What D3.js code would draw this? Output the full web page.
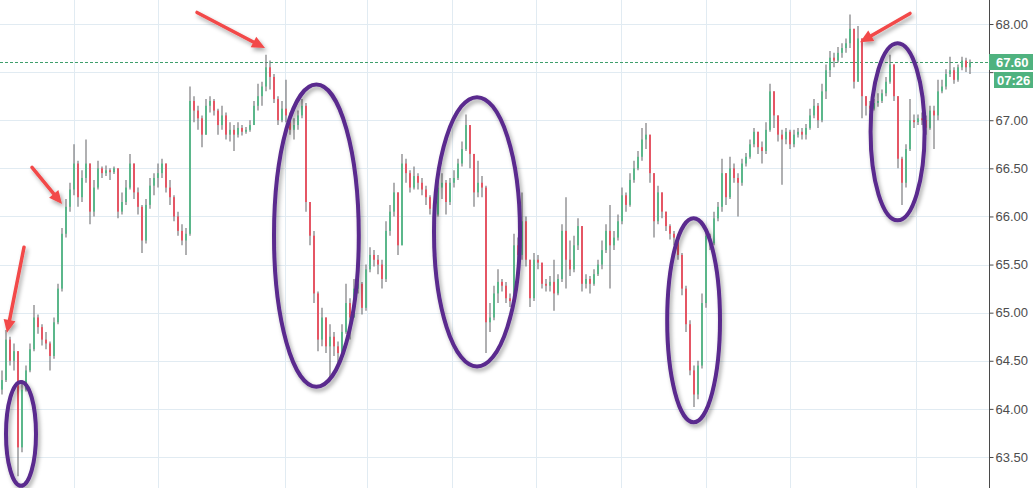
<!DOCTYPE html>
<html>
<head>
<meta charset="utf-8">
<script src="https://cdn.jsdelivr.net/npm/d3@7"></script>
<style>
  body { margin: 0; background: #fff; }
  svg { display: block; }
</style>
</head>
<body>
<div id="chart"></div>
<script>
(function () {
    'use strict';

    // candle closes, highs, lows (opens are the previous close)
    var firstOpen = 64.20;
    var closes = [
        64.30,64.72,64.50,64.60,63.60,64.20,64.40,64.62,64.95,64.85,
        64.72,64.68,64.55,64.90,65.25,65.82,66.10,66.28,66.55,66.20,
        66.40,66.55,66.05,66.30,66.50,66.45,66.48,66.46,66.50,66.05,
        66.15,66.30,66.55,66.25,66.10,65.75,66.12,66.32,66.40,66.45,
        66.55,66.30,66.20,66.00,65.85,65.75,65.82,67.20,67.10,67.02,
        66.85,67.15,67.20,67.10,66.95,67.05,66.85,66.90,66.85,66.92,
        66.88,66.90,66.95,67.15,67.25,67.35,67.55,67.45,67.22,67.00,
        67.12,67.05,66.90,66.95,67.05,67.15,66.15,65.80,65.20,64.72,
        64.95,64.65,64.75,64.65,64.58,64.80,65.10,64.95,65.25,65.30,
        65.05,65.45,65.60,65.55,65.50,65.35,65.85,66.05,66.25,65.70,
        66.55,66.45,66.30,66.42,66.35,66.28,66.20,66.08,66.02,66.30,
        66.35,66.15,66.35,66.40,66.55,66.70,66.95,66.65,66.25,66.35,
        66.30,64.90,64.95,65.20,65.32,65.28,65.15,65.12,65.70,65.60,
        65.95,65.55,65.15,65.55,65.52,65.30,65.28,65.32,65.20,65.35,
        65.85,65.55,65.45,65.70,65.90,65.30,65.35,65.30,65.40,65.50,
        65.65,65.85,65.70,65.78,65.95,66.22,66.12,66.38,66.50,66.62,
        66.80,66.85,66.45,65.95,66.25,66.05,65.90,65.82,65.78,65.60,
        65.25,64.88,64.40,64.15,64.45,65.10,65.80,65.72,65.98,66.10,
        66.45,66.20,66.50,66.40,66.35,66.55,66.62,66.75,66.88,66.72,
        66.68,66.90,67.30,67.05,66.85,66.80,66.88,66.75,66.85,66.88,
        66.85,66.92,67.05,67.15,67.00,67.30,67.52,67.65,67.62,67.70,
        67.75,67.80,67.95,67.40,67.85,67.25,67.15,67.12,67.18,67.20,
        67.28,67.40,67.58,67.25,66.60,66.35,66.70,67.00,66.98,67.02,
        67.00,66.92,67.10,67.05,67.30,67.35,67.48,67.52,67.42,67.55,
        67.62,67.55,67.60
    ];
    var highs = [
        64.40,64.82,64.75,64.68,64.55,64.30,64.45,64.68,65.08,64.98,
        64.88,64.80,64.70,64.95,65.30,65.88,66.18,66.35,66.75,66.58,
        66.48,66.80,66.55,66.38,66.58,66.52,66.53,66.50,66.52,66.50,
        66.25,66.38,66.65,66.52,66.30,66.12,66.18,66.40,66.45,66.55,
        66.60,66.55,66.38,66.22,66.05,65.92,65.88,67.35,67.25,67.15,
        67.05,67.22,67.25,67.22,67.12,67.15,67.08,66.98,66.95,66.98,
        66.95,66.93,67.00,67.20,67.38,67.40,67.68,67.62,67.48,67.25,
        67.20,67.42,67.08,67.02,67.10,67.22,67.18,66.15,65.85,65.22,
        65.05,64.95,64.88,64.80,64.70,64.88,65.30,65.15,65.35,65.45,
        65.32,65.50,65.68,65.65,65.60,65.55,65.95,66.12,66.35,66.22,
        66.65,66.60,66.48,66.52,66.45,66.40,66.32,66.22,66.12,66.40,
        66.45,66.38,66.40,66.48,66.60,66.78,67.06,66.95,66.65,66.58,
        66.42,66.32,65.10,65.28,65.45,65.35,65.32,65.20,65.82,65.78,
        66.25,66.00,65.55,65.62,65.60,65.52,65.35,65.38,65.55,65.40,
        65.92,66.20,65.75,65.80,65.98,65.88,65.40,65.38,65.45,65.55,
        65.75,65.92,66.12,65.85,66.02,66.30,66.25,66.45,66.58,66.68,
        66.92,66.97,66.82,66.45,66.32,66.25,66.05,65.92,65.85,65.80,
        65.62,65.28,64.92,64.45,64.50,65.20,65.88,65.82,66.05,66.15,
        66.60,66.45,66.62,66.55,66.45,66.60,66.66,66.80,66.92,66.88,
        66.78,66.98,67.38,67.28,67.05,66.90,66.92,66.90,66.90,66.92,
        66.92,66.96,67.12,67.22,67.18,67.38,67.58,67.72,67.70,67.76,
        67.80,67.85,68.10,67.95,67.98,67.85,67.25,67.20,67.22,67.28,
        67.32,67.45,67.68,67.55,67.25,66.62,66.75,67.22,67.06,67.06,
        67.08,67.05,67.15,67.15,67.42,67.42,67.53,67.66,67.55,67.58,
        67.66,67.65,67.63
    ];
    var lows = [
        64.15,64.28,64.45,64.40,63.30,63.55,64.18,64.38,64.60,64.78,
        64.66,64.62,64.40,64.52,64.88,65.22,65.78,66.05,66.22,66.10,
        66.15,66.35,65.92,66.00,66.28,66.40,66.42,66.38,66.44,65.98,
        66.02,66.12,66.28,66.18,66.02,65.62,65.72,66.08,66.22,66.30,
        66.40,66.25,66.12,65.95,65.80,65.70,65.60,65.80,66.98,66.90,
        66.72,66.85,67.08,67.05,66.85,66.90,66.80,66.78,66.68,66.82,
        66.84,66.86,66.88,66.95,67.10,67.15,67.30,67.32,67.18,66.95,
        66.98,66.98,66.85,66.80,66.90,67.02,66.05,65.70,65.10,64.60,
        64.65,64.58,64.30,64.55,64.48,64.55,64.78,64.72,64.95,65.20,
        64.98,65.02,65.42,65.48,65.40,65.25,65.32,65.80,66.00,65.60,
        65.70,66.35,66.25,66.28,66.28,66.22,66.12,66.02,65.88,66.00,
        66.18,66.02,66.12,66.30,66.38,66.52,66.68,66.50,66.10,66.20,
        66.20,64.58,64.80,64.92,65.10,65.22,65.10,65.06,65.10,65.50,
        65.55,65.48,65.06,65.12,65.45,65.25,65.22,65.22,65.02,65.18,
        65.32,65.25,65.38,65.42,65.65,65.22,65.25,65.20,65.28,65.38,
        65.45,65.62,65.25,65.65,65.75,65.92,66.05,66.10,66.35,66.48,
        66.58,66.70,66.35,65.78,65.92,65.98,65.85,65.76,65.70,65.55,
        65.18,64.80,64.35,64.02,64.10,64.42,65.05,65.65,65.70,65.95,
        66.05,66.12,66.18,66.35,66.00,66.32,66.52,66.60,66.72,66.65,
        66.55,66.65,66.88,66.92,66.78,66.33,66.75,66.70,66.72,66.82,
        66.80,66.80,66.90,67.02,66.92,66.98,67.22,67.45,67.55,67.60,
        67.65,67.70,67.75,67.33,67.40,67.02,67.05,67.08,67.10,67.14,
        67.18,67.25,67.38,67.20,66.50,66.12,66.30,66.68,66.92,66.95,
        66.95,66.85,66.90,66.70,67.00,67.28,67.32,67.45,67.38,67.40,
        67.52,67.50,67.48
    ];

    var priceTicks = [63.5, 64, 64.5, 65, 65.5, 66, 66.5, 67, 67.5, 68];
    // candle positions where a new session starts (vertical grid)
    var sessionBreaks = [18, 39, 70.75, 91.25, 112.5, 133.5, 154.75, 176, 197, 228.5];
    var lastPrice = 67.60;
    var timerText = '07:26';

    // annotations, in candle index / price
    var arrows = [
        { from: [5.5, 65.68], to: [1.25, 64.79] },
        { from: [7.5, 66.51], to: [15, 66.13] },
        { from: [48.75, 68.12], to: [65.75, 67.75] },
        { from: [227, 68.11], to: [214.5, 67.81] }
    ];
    var circles = [
        { at: [4.75, 63.74], rx: 3.75, ry: 0.54 },
        { at: [78.6, 65.80], rx: 10.6, ry: 1.57 },
        { at: [118.75, 65.84], rx: 10.75, ry: 1.40 },
        { at: [172.9, 64.92], rx: 6.6, ry: 1.06 },
        { at: [223.9, 66.88], rx: 6.75, ry: 0.92 }
    ];

    var width = 1033, height = 488, axisX = 989;
    var up = '#53b987', down = '#eb4d5c', wick = '#6f6f72';

    var candles = closes.map(function (c, i) {
        return {
            i: i,
            open: i === 0 ? firstOpen : closes[i - 1],
            close: c,
            high: highs[i],
            low: lows[i]
        };
    });

    var x = d3.scaleLinear().domain([0, closes.length - 1]).range([2, 970]);
    var y = d3.scaleLinear().domain([63.5, 68]).range([457, 24]);

    var svg = d3.select('#chart').append('svg')
        .attr('width', width)
        .attr('height', height);

    var defs = svg.append('defs');
    var shadow = defs.append('filter').attr('id', 'shadow')
        .attr('x', '-30%').attr('y', '-30%').attr('width', '160%').attr('height', '160%');
    shadow.append('feDropShadow')
        .attr('dx', 2).attr('dy', 3).attr('stdDeviation', 2.2)
        .attr('flood-color', '#000').attr('flood-opacity', 0.35);

    svg.append('rect').attr('width', width).attr('height', height).attr('fill', '#fff');

    // grid
    var grid = svg.append('g').attr('class', 'grid')
        .attr('stroke', '#e1ebf2').attr('stroke-width', 1);
    grid.selectAll('line.h').data(priceTicks).enter().append('line')
        .attr('class', 'h')
        .attr('x1', 0).attr('x2', axisX)
        .attr('y1', function (d) { return Math.round(y(d)) + 0.5; })
        .attr('y2', function (d) { return Math.round(y(d)) + 0.5; });
    grid.selectAll('line.v').data(sessionBreaks).enter().append('line')
        .attr('class', 'v')
        .attr('y1', 0).attr('y2', height)
        .attr('x1', function (d) { return Math.round(x(d)) + 0.5; })
        .attr('x2', function (d) { return Math.round(x(d)) + 0.5; });

    // last price line
    svg.append('line')
        .attr('x1', 0).attr('x2', axisX)
        .attr('y1', Math.round(y(lastPrice)) + 0.5)
        .attr('y2', Math.round(y(lastPrice)) + 0.5)
        .attr('stroke', '#3f9f6c')
        .attr('stroke-dasharray', '3,2');

    // candles
    var candle = svg.append('g').attr('class', 'candles')
        .selectAll('g').data(candles).enter().append('g');
    candle.append('line')
        .attr('x1', function (d) { return x(d.i); })
        .attr('x2', function (d) { return x(d.i); })
        .attr('y1', function (d) { return y(Math.max(d.high, d.open, d.close)); })
        .attr('y2', function (d) { return y(Math.min(d.low, d.open, d.close)); })
        .attr('stroke', wick).attr('stroke-width', 1.1);
    candle.append('rect')
        .attr('x', function (d) { return x(d.i) - 0.9; })
        .attr('width', 1.8)
        .attr('y', function (d) { return y(Math.max(d.open, d.close)); })
        .attr('height', function (d) { return Math.max(1, Math.abs(y(d.open) - y(d.close))); })
        .attr('fill', function (d) { return d.close >= d.open ? up : down; });

    // annotations
    var notes = svg.append('g').attr('class', 'notes').attr('filter', 'url(#shadow)');
    notes.selectAll('ellipse').data(circles).enter().append('ellipse')
        .attr('cx', function (d) { return x(d.at[0]); })
        .attr('cy', function (d) { return y(d.at[1]); })
        .attr('rx', function (d) { return x(d.rx) - x(0); })
        .attr('ry', function (d) { return y(63.5) - y(63.5 + d.ry); })
        .attr('fill', 'none')
        .attr('stroke', '#5a2a8e')
        .attr('stroke-width', 4);

    var arrowG = notes.selectAll('g.arrow').data(arrows).enter().append('g').attr('class', 'arrow');
    arrowG.each(function (d) {
        var x1 = x(d.from[0]), y1 = y(d.from[1]), x2 = x(d.to[0]), y2 = y(d.to[1]);
        var len = Math.sqrt((x2 - x1) * (x2 - x1) + (y2 - y1) * (y2 - y1));
        var ux = (x2 - x1) / len, uy = (y2 - y1) / len;
        var head = 13, half = 6;
        var bx = x2 - ux * head, by = y2 - uy * head;
        var g = d3.select(this);
        g.append('line')
            .attr('x1', x1).attr('y1', y1).attr('x2', bx + ux * 2).attr('y2', by + uy * 2)
            .attr('stroke', '#f24848').attr('stroke-width', 3.5).attr('stroke-linecap', 'round');
        g.append('path')
            .attr('d', 'M' + x2 + ',' + y2 +
                'L' + (bx - uy * half) + ',' + (by + ux * half) +
                'L' + (bx + uy * half) + ',' + (by - ux * half) + 'Z')
            .attr('fill', '#f24848');
    });

    // right axis; the label under the last-price tag stays hidden, as on the original
    var axis = svg.append('g')
        .attr('transform', 'translate(' + (axisX + 0.5) + ',0)')
        .call(d3.axisRight(y).tickValues(priceTicks).tickSize(4).tickPadding(2)
            .tickFormat(d3.format('.2f')));
    axis.select('.domain').remove();
    axis.selectAll('.tick line').attr('stroke', '#4a4a4a');
    axis.selectAll('.tick text')
        .attr('fill', '#4d4d4d')
        .style('font-family', '"Liberation Sans", Arial, sans-serif')
        .style('font-size', '13px');
    axis.selectAll('.tick')
        .filter(function (d) { return Math.abs(y(d) - y(lastPrice)) < 30; })
        .select('text').remove();
    axis.append('line')
        .attr('y1', 0).attr('y2', height)
        .attr('stroke', '#4a4a4a');

    // last price + timer labels
    var py = Math.round(y(lastPrice));
    var lab = svg.append('g').style('font-family', '"Liberation Sans", Arial, sans-serif');
    lab.append('rect').attr('x', axisX).attr('y', py - 8).attr('width', width - axisX).attr('height', 16)
        .attr('fill', '#4fb27f');
    lab.append('text').attr('x', axisX + 7).attr('y', py + 4.5)
        .attr('fill', '#fff').style('font-size', '13px').style('font-weight', 'bold')
        .text(d3.format('.2f')(lastPrice));
    lab.append('rect').attr('x', axisX + 5).attr('y', py + 10).attr('width', width - axisX - 5).attr('height', 16)
        .attr('fill', '#4fb27f');
    lab.append('text').attr('x', axisX + 8).attr('y', py + 22.5)
        .attr('fill', '#fff').style('font-size', '13px').style('font-weight', 'bold')
        .text(timerText);
})();
</script>
</body>
</html>
